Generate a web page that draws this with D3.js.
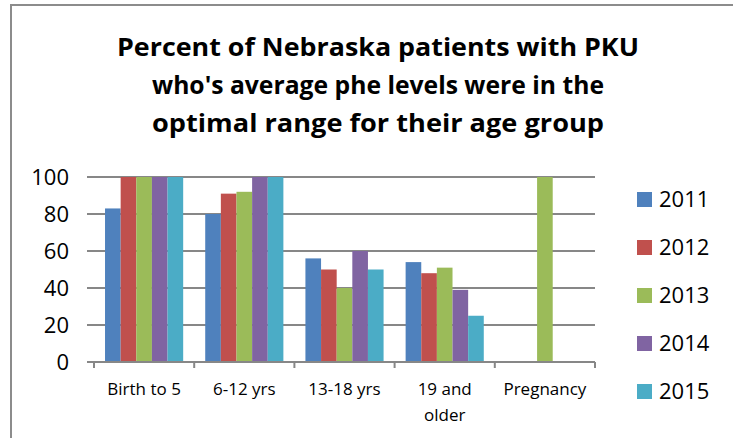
<!DOCTYPE html>
<html>
<head>
<meta charset="utf-8">
<script src="https://cdnjs.cloudflare.com/ajax/libs/d3/7.8.5/d3.min.js"></script>
<style>
  body { margin: 0; background: #fff; }
  svg text { font-family: "Open Sans", "Noto Sans", sans-serif; fill: #000; }
</style>
</head>
<body>
<div id="chart"></div>
<script>
'use strict';

var titleLines = ['Percent  of Nebraska patients with PKU', "who's average phe levels were in the", 'optimal range for their age group'];
var categories = ['Birth to 5', '6-12 yrs', '13-18 yrs', '19 and older', 'Pregnancy'];
var years = ['2011', '2012', '2013', '2014', '2015'];
var yTicks = [0, 20, 40, 60, 80, 100];
var colors = ['#4F81BD', '#C0504D', '#9BBB59', '#8064A2', '#4BACC6'];

// one array per year, in category order (null = no bar)
var v2011 = [83, 80, 56, 54, null];
var v2012 = [100, 91, 50, 48, null];
var v2013 = [100, 92, 40, 51, 100];
var v2014 = [100, 100, 60, 39, null];
var v2015 = [100, 100, 50, 25, null];
var series = [v2011, v2012, v2013, v2014, v2015];

var width = 733, height = 438;
var plot = {left: 94, right: 595, top: 177, bottom: 362};

var svg = d3.select('#chart').append('svg')
    .attr('width', width)
    .attr('height', height);

// outer chart border
svg.append('rect')
    .attr('x', 11).attr('y', 5)
    .attr('width', width + 10).attr('height', height + 10)
    .attr('fill', 'none')
    .attr('stroke', '#8c8c8c')
    .attr('stroke-width', 2);

// title
svg.append('g').selectAll('text')
    .data(titleLines)
    .enter().append('text')
    .attr('x', 378)
    .attr('y', function (d, i) { return 56 + i * 38; })
    .attr('text-anchor', 'middle')
    .style('font-size', '25px')
    .style('font-weight', 'bold')
    .attr('textLength', function (d, i) { return [522, 452, 452][i]; })
    .attr('lengthAdjust', 'spacingAndGlyphs')
    .text(function (d) { return d; });

var x0 = d3.scaleBand()
    .domain(categories)
    .range([plot.left, plot.right])
    .paddingInner(0.22)
    .paddingOuter(0.11);

var x1 = d3.scaleBand()
    .domain(years)
    .range([0, x0.bandwidth()]);

var y = d3.scaleLinear()
    .domain([0, 100])
    .range([plot.bottom, plot.top]);

// gridlines
svg.append('g').selectAll('line')
    .data(yTicks)
    .enter().append('line')
    .attr('x1', plot.left - 7)
    .attr('x2', plot.right)
    .attr('y1', function (d) { return y(d); })
    .attr('y2', function (d) { return y(d); })
    .attr('stroke', '#878787')
    .attr('stroke-width', 2);

// y labels
svg.append('g').selectAll('text')
    .data(yTicks)
    .enter().append('text')
    .attr('x', 69)
    .attr('y', function (d) { return y(d); })
    .attr('dy', '0.36em')
    .attr('text-anchor', 'end')
    .style('font-size', '22px')
    .text(function (d) { return d; });

// bars
var groups = svg.append('g').selectAll('g')
    .data(categories)
    .enter().append('g')
    .attr('transform', function (d) { return 'translate(' + x0(d) + ',0)'; });

groups.selectAll('rect')
    .data(function (c, ci) {
        return years.map(function (yr, si) { return {year: yr, si: si, value: series[si][ci]}; })
            .filter(function (d) { return d.value != null; });
    })
    .enter().append('rect')
    .attr('x', function (d) { return x1(d.year); })
    .attr('width', x1.bandwidth())
    .attr('y', function (d) { return y(d.value); })
    .attr('height', function (d) { return y(0) - y(d.value); })
    .attr('fill', function (d) { return colors[d.si]; });

// x axis line + category ticks
svg.append('line')
    .attr('x1', plot.left - 7).attr('x2', plot.right)
    .attr('y1', y(0)).attr('y2', y(0))
    .attr('stroke', '#878787').attr('stroke-width', 2);

var step = (plot.right - plot.left) / categories.length;
svg.append('g').selectAll('line')
    .data(d3.range(categories.length + 1))
    .enter().append('line')
    .attr('x1', function (i) { return plot.left + i * step; })
    .attr('x2', function (i) { return plot.left + i * step; })
    .attr('y1', y(0)).attr('y2', y(0) + 6)
    .attr('stroke', '#878787').attr('stroke-width', 2);

// category labels (wrap "19 and older")
var catLabels = svg.append('g').selectAll('text')
    .data(categories)
    .enter().append('text')
    .attr('text-anchor', 'middle')
    .style('font-size', '17px')
    .attr('y', 395);

catLabels.each(function (d) {
    var cx = x0(d) + x0.bandwidth() / 2;
    var lines = d === '19 and older' ? ['19 and', 'older'] : [d];
    d3.select(this).selectAll('tspan')
        .data(lines)
        .enter().append('tspan')
        .attr('x', cx)
        .attr('dy', function (l, i) { return i === 0 ? 0 : 26; })
        .text(function (l) { return l; });
});

// legend
var legend = svg.append('g').selectAll('g')
    .data(years)
    .enter().append('g')
    .attr('transform', function (d, i) { return 'translate(637,' + (199 + i * 48) + ')'; });

legend.append('rect')
    .attr('x', 0).attr('y', -7)
    .attr('width', 15).attr('height', 15)
    .attr('fill', function (d, i) { return colors[i]; });

legend.append('text')
    .attr('x', 22)
    .attr('dy', '0.36em')
    .style('font-size', '22px')
    .text(function (d) { return d; });
</script>
</body>
</html>
